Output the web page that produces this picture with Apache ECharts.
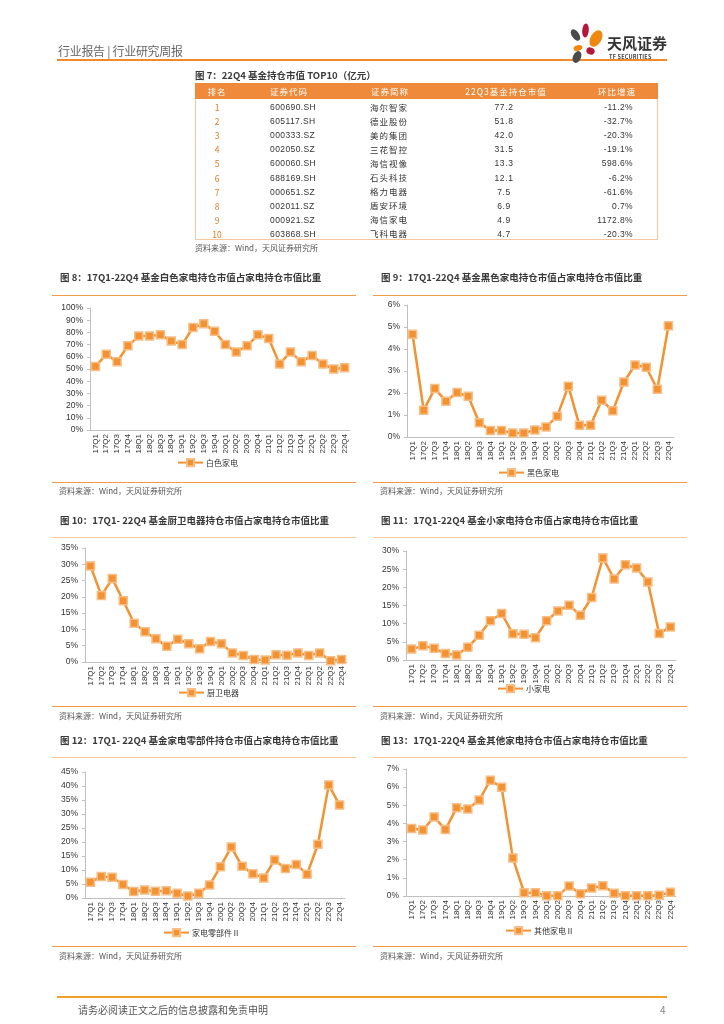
<!DOCTYPE html>
<html>
<head>
<meta charset="utf-8">
<script src="https://cdn.jsdelivr.net/npm/echarts@6/dist/echarts.min.js"></script>
<style>
body{margin:0;background:#fff;}
#page{position:relative;width:724px;height:1024px;overflow:hidden;font-family:"Noto Sans CJK SC","Liberation Sans",sans-serif;color:#333;}
#chart{position:absolute;left:0;top:0;width:724px;height:1024px;}
.abs{position:absolute;white-space:nowrap;line-height:12px;}
.title{font-size:9.5px;font-weight:bold;color:#3a3a3a;}
.src{font-size:8px;color:#555;}
.hline{position:absolute;height:0;}
</style>
</head>
<body>
<div id="page">
  <div id="chart"></div>
</div>
<script>
// ---------- data ----------
const categories = ['17Q1','17Q2','17Q3','17Q4','18Q1','18Q2','18Q3','18Q4','19Q1','19Q2','19Q3','19Q4',
                    '20Q1','20Q2','20Q3','20Q4','21Q1','21Q2','21Q3','21Q4','22Q1','22Q2','22Q3','22Q4'];
const whiteGoods = [52,62,56,69,77,77,78,73,70,84,87,81,70,64,69,78,75,54,64,56,61,54,50,51];
const blackGoods = [4.67,1.22,2.2,1.63,2.02,1.85,0.65,0.3,0.29,0.18,0.18,0.32,0.46,0.94,2.31,0.53,0.53,1.67,1.19,2.5,3.27,3.17,2.17,5.06];
const kitchen = [29.5,20.4,25.6,18.8,11.9,9.3,7.1,4.8,7.0,5.6,4.1,6.3,5.6,2.8,2.0,0.8,0.6,2.2,2.1,2.8,2.0,2.8,0.4,0.8];
const smallAppl = [3.0,3.9,3.2,1.8,1.4,3.5,6.8,10.8,12.8,7.2,7.1,6.1,10.8,13.5,15.1,12.3,17.2,28.1,22.3,26.2,25.3,21.5,7.3,9.1];
const parts = [5.6,7.7,7.4,4.8,2.3,2.9,2.4,2.6,1.7,0.7,1.7,4.6,11.2,18.2,11.3,8.7,7.1,13.6,10.5,12.0,8.5,19.2,40.4,33.2];
const others = [3.72,3.64,4.36,3.66,4.86,4.79,5.29,6.38,5.99,2.09,0.18,0.18,0.02,0.02,0.55,0.13,0.44,0.57,0.15,0.02,0.02,0.02,0.04,0.2];

const tableHeader = ['排名','证券代码','证券简称','22Q3基金持仓市值','环比增速'];
const tableRank = ['1','2','3','4','5','6','7','8','9','10'];
const tableCode = ['600690.SH','605117.SH','000333.SZ','002050.SZ','600060.SH','688169.SH','000651.SZ','002011.SZ','000921.SZ','603868.SH'];
const tableName = ['海尔智家','德业股份','美的集团','三花智控','海信视像','石头科技','格力电器','盾安环境','海信家电','飞科电器'];
const tableValue = ['77.2','51.8','42.0','31.5','13.3','12.1','7.5','6.9','4.9','4.7'];
const tableChange = ['-11.2%','-32.7%','-20.3%','-19.1%','598.6%','-6.2%','-61.6%','0.7%','1172.8%','-20.3%'];

const panelTitles = [
  '图 8：17Q1-22Q4 基金白色家电持仓市值占家电持仓市值比重',
  '图 9：17Q1-22Q4 基金黑色家电持仓市值占家电持仓市值比重',
  '图 10：17Q1- 22Q4 基金厨卫电器持仓市值占家电持仓市值比重',
  '图 11：17Q1-22Q4 基金小家电持仓市值占家电持仓市值比重',
  '图 12：17Q1- 22Q4 基金家电零部件持仓市值占家电持仓市值比重',
  '图 13：17Q1-22Q4 基金其他家电持仓市值占家电持仓市值比重'
];
const seriesNames = ['白色家电','黑色家电','厨卫电器','小家电','家电零部件Ⅱ','其他家电Ⅱ'];
const seriesData = [whiteGoods, blackGoods, kitchen, smallAppl, parts, others];
const yMaxes = [100, 6, 35, 30, 45, 7];
const yIntervals = [10, 1, 5, 5, 5, 1];
const sourceText = '资料来源：Wind，天风证券研究所';

// ---------- static page parts ----------
const page = document.getElementById('page');
function addText(txt, x, cy, cls, extra) {
  const d = document.createElement('div');
  d.className = 'abs ' + (cls || '');
  d.textContent = txt;
  d.style.left = x + 'px';
  d.style.top = (cy - 6) + 'px';
  if (extra) Object.assign(d.style, extra);
  page.appendChild(d);
  return d;
}
function addLine(x1, x2, y, color, w) {
  const d = document.createElement('div');
  d.className = 'hline';
  d.style.left = x1 + 'px';
  d.style.width = (x2 - x1) + 'px';
  d.style.top = (y - w / 2) + 'px';
  d.style.borderTop = w + 'px solid ' + color;
  page.appendChild(d);
}

// header
addText('行业报告 | 行业研究周报', 58, 51, '', {fontSize:'12px', color:'#666', letterSpacing:'-0.3px'});
addLine(57, 667, 59.5, '#F08A2A', 2);
// logo
const logo = document.createElementNS('http://www.w3.org/2000/svg','svg');
logo.setAttribute('width','40'); logo.setAttribute('height','45');
logo.style.position = 'absolute'; logo.style.left = '566px'; logo.style.top = '20px';
logo.innerHTML =
  '<ellipse cx="9.5" cy="15" rx="3.6" ry="6.5" fill="#4a4a4a" transform="rotate(-35 9.5 15)"/>' +
  '<ellipse cx="19.5" cy="10.5" rx="3.3" ry="7" fill="#B5173A" transform="rotate(5 19.5 10.5)"/>' +
  '<ellipse cx="30" cy="18.5" rx="5.5" ry="9" fill="#F0880F" transform="rotate(30 30 18.5)"/>' +
  '<ellipse cx="12" cy="28" rx="4.5" ry="2.8" fill="#F0880F" transform="rotate(-15 12 28)"/>' +
  '<ellipse cx="24.5" cy="31" rx="4.2" ry="3.5" fill="#B5173A" transform="rotate(20 24.5 31)"/>' +
  '<ellipse cx="11" cy="37" rx="4" ry="6.2" fill="#4a4a4a" transform="rotate(25 11 37)"/>';
page.appendChild(logo);
addText('天风证券', 607, 43, '', {fontSize:'15px', color:'#333', fontWeight:'bold', lineHeight:'16px', top:'35px'});
addText('TF SECURITIES', 609, 56.5, '', {fontSize:'5.5px', color:'#444', fontWeight:'bold', letterSpacing:'0.2px'});

// footer
addLine(57, 667, 997, '#F0A028', 2);
addText('请务必阅读正文之后的信息披露和免责申明', 78, 1010, '', {fontSize:'10px', color:'#555'});
addText('4', 660, 1010, '', {fontSize:'10px', color:'#888'});

// table
addText('图 7：22Q4 基金持仓市值 TOP10（亿元）', 195, 75, 'title');
(function buildTable(){
  const box = document.createElement('div');
  box.style.cssText = 'position:absolute;left:195px;top:83px;width:463px;height:157px;border:1px solid #F6C7A0;box-sizing:border-box;';
  page.appendChild(box);
  const head = document.createElement('div');
  head.style.cssText = 'position:absolute;left:195px;top:83px;width:463px;height:16px;background:#EF8A3A;';
  page.appendChild(head);
  const colX = [217, 289, 390, 506, 617];
  tableHeader.forEach((h, i) => {
    addText(h, colX[i], 91, '', {fontSize:'8.5px', color:'#fff', transform:'translateX(-50%)', letterSpacing:'1px'});
  });
  for (let r = 0; r < tableRank.length; r++) {
    const cy = 107 + r * 14.1;
    addText(tableRank[r], 217, cy, '', {fontSize:'8.5px', color:'#E07A25', transform:'translateX(-50%)'});
    addText(tableCode[r], 270, cy, '', {fontSize:'8.5px', color:'#333', fontFamily:'"Liberation Sans",sans-serif', letterSpacing:'0.4px'});
    addText(tableName[r], 370, cy - 0.5, '', {fontSize:'8.5px', color:'#333', letterSpacing:'1px'});
    addText(tableValue[r], 504, cy, '', {fontSize:'8.5px', color:'#333', fontFamily:'"Liberation Sans",sans-serif', transform:'translateX(-50%)', letterSpacing:'0.6px'});
    addText(tableChange[r], 633, cy, '', {fontSize:'8.5px', color:'#333', fontFamily:'"Liberation Sans",sans-serif', transform:'translateX(-100%)', letterSpacing:'0.4px'});
  }
  addText(sourceText, 195, 248, 'src');
})();

// panel decorations
const panelX = [[52,356],[373,687],[52,356],[373,687],[52,356],[373,687]];
const titleY = [277, 277, 520, 520, 740, 740];
const topLineY = [296, 296, 538, 538, 758, 758];
const bottomLineY = [483, 483, 707, 707, 947, 947];
const sourceY = [491, 491, 716, 716, 956, 956];
for (let i = 0; i < 6; i++) {
  const x0 = panelX[i][0], x1 = panelX[i][1];
  addText(panelTitles[i], x0 + 8, titleY[i], 'title');
  addLine(x0, x1, topLineY[i], i < 2 ? '#F29A48' : '#F8C797', 1.5);
  addLine(x0, x1, bottomLineY[i], '#F29A48', 1.5);
  addText(sourceText, x0 + 7, sourceY[i], 'src');
}

// ---------- charts ----------
const grids = [
  {left:90, top:308, width:260, height:122},
  {left:407, top:305, width:267, height:132},
  {left:85, top:548, width:262, height:114},
  {left:406, top:551, width:270, height:109},
  {left:85, top:772, width:260, height:126},
  {left:406, top:769, width:270, height:127}
];
const legendPos = [
  {left:177, top:458}, {left:498, top:468}, {left:178, top:688},
  {left:497, top:684}, {left:163, top:928}, {left:505, top:926}
];
const orange = '#F39232';
const option = {
  animation: false,
  grid: grids.map(g => Object.assign({containLabel:false}, g)),
  xAxis: grids.map((g, i) => ({
    type: 'category', gridIndex: i, data: categories, boundaryGap: true,
    axisLine: {show: true, lineStyle: {color: '#BFBFBF', width: 1}},
    axisTick: {show: false},
    axisLabel: {rotate: 90, interval: 0, fontSize: 8, color: '#333', margin: 4, fontFamily: 'Liberation Sans'}
  })),
  yAxis: grids.map((g, i) => ({
    type: 'value', gridIndex: i, min: 0, max: yMaxes[i], interval: yIntervals[i],
    axisLine: {show: true, lineStyle: {color: '#BFBFBF', width: 1}},
    axisTick: {show: true, length: 3, lineStyle: {color: '#BFBFBF'}},
    splitLine: {show: false},
    axisLabel: {formatter: '{value}%', fontSize: 8.5, color: '#333', margin: 7, fontFamily: 'Liberation Sans'}
  })),
  legend: legendPos.map((p, i) => ({
    left: p.left, top: p.top, padding: 0, data: [seriesNames[i]],
    itemWidth: 25, itemHeight: 9, itemGap: 4,
    textStyle: {fontSize: 8, color: '#333', fontFamily: 'Noto Sans CJK SC', padding: [0,0,0,-2]}
  })),
  series: seriesData.map((d, i) => ({
    type: 'line', name: seriesNames[i], xAxisIndex: i, yAxisIndex: i, data: d,
    symbol: 'rect', symbolSize: 8,
    lineStyle: {color: orange, width: 2.5},
    itemStyle: {color: orange, borderColor: '#F8BE86', borderWidth: 1.5}
  }))
};
const chart = echarts.init(document.getElementById('chart'), null, {renderer: 'canvas'});
chart.setOption(option);
</script>
</body>
</html>
